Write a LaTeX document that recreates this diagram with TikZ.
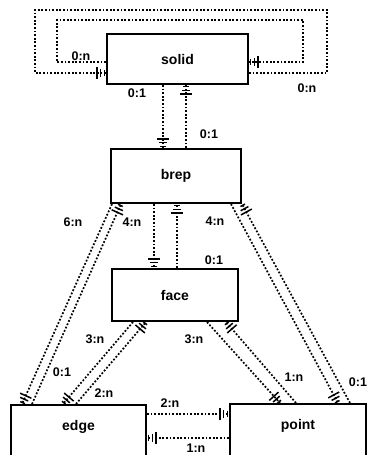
\documentclass[tikz,border=0pt]{standalone}
\usepackage{fontspec}
\setmainfont{Liberation Sans}
\usetikzlibrary{arrows.meta}
\pgfdeclarearrow{
  name=HatchTip,
  setup code={
    \pgfarrowssettipend{0pt}
    \pgfarrowssetlineend{-1pt}
    \pgfarrowssetbackend{-11pt}
  },
  drawing code={
    \pgfsetdash{}{0pt}
    \pgfsetbuttcap
    \pgfsetlinewidth{1.5pt}
    \pgfpathmoveto{\pgfpoint{-1.5pt}{-2.6pt}}\pgfpathlineto{\pgfpoint{-1.5pt}{2.6pt}}
    \pgfpathmoveto{\pgfpoint{-5.3pt}{-4.4pt}}\pgfpathlineto{\pgfpoint{-5.3pt}{4.4pt}}
    \pgfpathmoveto{\pgfpoint{-9.1pt}{-6.2pt}}\pgfpathlineto{\pgfpoint{-9.1pt}{6.2pt}}
    \pgfusepathqstroke
  }
}
\begin{document}
\begin{tikzpicture}[x=1pt,y=-1pt,
  box/.style={draw,line width=2pt,rectangle,anchor=north west,inner sep=0pt,font=\fontsize{14}{15}\selectfont\bfseries},
  dl/.style={line width=1.7pt,dash pattern=on 1.8pt off 1.8pt},
  arr/.style={dl,postaction={draw,solid,dash pattern=on 0pt off 5000pt,-HatchTip}},
  lab/.style={inner sep=0pt,font=\fontsize{12.5}{13}\selectfont\bfseries}]
\useasboundingbox (0,0) rectangle (368,455);
\clip (0,0) rectangle (368,455);
% boxes
\node[box,minimum width=141pt,minimum height=50pt] (solid) at (106,33) {solid};
\node[box,minimum width=130pt,minimum height=54pt] (brep) at (110,148) {brep};
\node[box,minimum width=126pt,minimum height=52pt] (face) at (111,268) {face};
\node[box,minimum width=135pt,text height=25pt,text depth=50pt] (edge) at (10,404) {edge};
\node[box,minimum width=136pt,text height=25pt,text depth=50pt] (point) at (229,403) {point};
% self loops of solid
\draw[arr] ([yshift=-14pt]solid.east) -- ++(78,0) |- (35,10) |- ([yshift=-14pt]solid.west);
\draw[arr] ([yshift=-3pt]solid.west) -- ++(-49,0) |- (303,20) |- ([yshift=-3pt]solid.east);
\node[lab] (l1) at (81,56) {0:n};
\node[lab] (l2) at (307,88) {0:n};
% solid - brep
\draw[arr] ([xshift=57pt]solid.south west) -- ([xshift=53pt]brep.north west);
\draw[arr] ([xshift=76pt]brep.north west) -- ([xshift=80pt]solid.south west);
\node[lab] (l3) at (137,93) {0:1};
\node[lab] (l4) at (209,134) {0:1};
% brep - face
\draw[arr] ([xshift=44pt]brep.south west) -- ([xshift=43pt]face.north west);
\draw[arr] ([xshift=66pt]face.north west) -- ([xshift=67pt]brep.south west);
\node[lab] (l5) at (132,222) {4:n};
\node[lab] (l6) at (214,260) {0:1};
% brep - edge
\draw[arr] ([xshift=2pt]brep.south west) -- ([xshift=12pt]edge.north west);
\draw[arr] ([xshift=22pt]edge.north west) -- ([xshift=11pt]brep.south west);
\node[lab] (l7) at (73,222) {6:n};
\node[lab] (l8) at (62,372) {0:1};
% brep - point
\draw[arr] ([xshift=-11pt]brep.south east) -- ([xshift=109pt]point.north west);
\draw[arr] ([xshift=121pt]point.north west) -- (brep.south east);
\node[lab] (l9) at (215,221) {4:n};
\node[lab] (l10) at (358,382) {0:1};
% face - edge
\draw[arr] ([xshift=22pt]face.south west) -- ([xshift=53pt]edge.north west);
\draw[arr] ([xshift=66pt]edge.north west) -- ([xshift=35pt]face.south west);
\node[lab] (l11) at (95,339) {3:n};
\node[lab] (l12) at (104,393) {2:n};
% face - point
\draw[arr] ([xshift=96pt]face.south west) -- ([xshift=51pt]point.north west);
\draw[arr] ([xshift=67pt]point.north west) -- ([xshift=115pt]face.south west);
\node[lab] (l13) at (194,339) {3:n};
\node[lab] (l14) at (294,377) {1:n};
% edge - point
\draw[arr] ([yshift=-10pt]edge.north east) -- ([yshift=-11pt]point.north west);
\draw[arr] ([yshift=-35pt]point.north west) -- ([yshift=-34pt]edge.north east);
\node[lab] (l15) at (170,403) {2:n};
\node[lab] (l16) at (196,448) {1:n};
\end{tikzpicture}
\end{document}
